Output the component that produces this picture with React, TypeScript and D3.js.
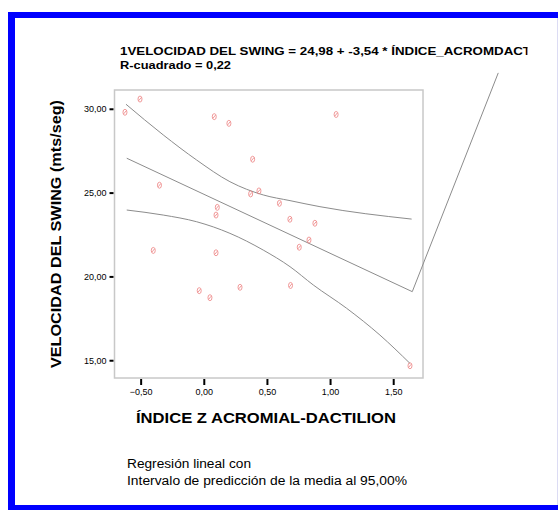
import React from "react";
import * as d3 from "d3";

// Data points (ÍNDICE Z ACROMIAL-DACTILION, VELOCIDAD DEL SWING)
const indiceZ = [-0.628, -0.509, 0.079, 0.195, 1.044, 0.383, -0.355, 0.367, 0.433, 0.595, 0.103, 0.093, 0.678, 0.876, 0.829, 0.752, -0.404, 0.093, -0.04, 0.045, 0.283, 0.683, 1.629];
const velocidad = [29.82, 30.61, 29.56, 29.16, 29.69, 27.02, 25.47, 24.95, 25.13, 24.39, 24.15, 23.69, 23.44, 23.2, 22.2, 21.77, 21.58, 21.44, 19.18, 18.76, 19.38, 19.49, 14.7];

// Fitted line (including the trailing segment as drawn)
const fitX = [-0.614, 1.647, 2.328];
const fitY = [27.08, 19.12, 32.17];

// 95% mean prediction interval bands
const upperX = [-0.62, -0.325, -0.06, 0.203, 0.467, 0.679, 0.916, 1.642];
const upperY = [30.3, 28.47, 26.97, 25.68, 24.89, 24.55, 24.19, 23.45];
const lowerX = [-0.614, -0.325, -0.06, 0.203, 0.467, 0.679, 0.863, 1.127, 1.391, 1.629];
const lowerY = [23.99, 23.69, 23.29, 22.6, 21.6, 20.61, 19.52, 18.13, 16.53, 14.84];

const xTicks = [-0.5, 0, 0.5, 1, 1.5];
const yTicks = [15, 20, 25, 30];

const titleLine1 = "1VELOCIDAD DEL SWING = 24,98 + -3,54 * ÍNDICE_ACROMDACT";
const titleLine2 = "R-cuadrado = 0,22";
const xTitle = "ÍNDICE Z ACROMIAL-DACTILION";
const yTitle = "VELOCIDAD DEL SWING (mts/seg)";
const note1 = "Regresión lineal con";
const note2 = "Intervalo de predicción de la media al 95,00%";

const FONT = "Arial, 'Liberation Sans', sans-serif";

export default function App() {
  const W = 558, H = 510;
  const x = d3.scaleLinear().domain([-0.711, 1.732]).range([114.5, 423]);
  const y = d3.scaleLinear().domain([13.97, 31.15]).range([378, 90]);
  const fmt = (v: number) => d3.format(".2f")(v).replace(".", ",");

  const line = d3.line<[number, number]>().x(d => x(d[0])).y(d => y(d[1]));
  const curve = d3.line<[number, number]>().x(d => x(d[0])).y(d => y(d[1])).curve(d3.curveMonotoneX);

  const fit = line(fitX.map((v, i) => [v, fitY[i]]) as [number, number][]) || "";
  const upper = curve(upperX.map((v, i) => [v, upperY[i]]) as [number, number][]) || "";
  const lower = curve(lowerX.map((v, i) => [v, lowerY[i]]) as [number, number][]) || "";

  return (
    <svg width={W} height={H} style={{ position: "absolute", left: 0, top: 0, background: "#fff" }}>
      <defs>
        <clipPath id="titleClip">
          <rect x={0} y={0} width={527.5} height={100} />
        </clipPath>
      </defs>
      <rect x={0} y={0} width={W} height={H} fill="#fff" />
      {/* blue frame */}
      <rect x={8} y={12} width={W - 8} height={6} fill="#0000ff" />
      <rect x={8} y={12} width={7} height={H - 12} fill="#0000ff" />
      <rect x={8} y={505} width={W - 8} height={5} fill="#0000ff" />
      <line x1={557.5} y1={18} x2={557.5} y2={505} stroke="#dcdcf4" strokeWidth={1} />

      {/* title */}
      <g clipPath="url(#titleClip)">
        <text x={120} y={55} fontFamily={FONT} fontWeight="bold" fontSize={11} fill="#000" textLength={411} lengthAdjust="spacingAndGlyphs">{titleLine1}</text>
      </g>
      <text x={120} y={68.5} fontFamily={FONT} fontWeight="bold" fontSize={11} textLength={111} lengthAdjust="spacingAndGlyphs">{titleLine2}</text>

      {/* plot frame */}
      <rect x={114.5} y={90} width={308.5} height={288} fill="none" stroke="#c8c8c8" strokeWidth={1.5} />

      {/* bands and fit */}
      <path d={upper} fill="none" stroke="#8c8c8c" strokeWidth={1} />
      <path d={lower} fill="none" stroke="#8c8c8c" strokeWidth={1} />
      <path d={fit} fill="none" stroke="#8c8c8c" strokeWidth={1} />

      {/* points */}
      {indiceZ.map((v, i) => (
        <g key={i} transform={`translate(${x(v)},${y(velocidad[i])})`} stroke="#ec8080" fill="none" strokeWidth={0.8}>
          <ellipse rx={2} ry={3} />
          <line x1={-1.2} y1={1.5} x2={1.2} y2={-1.5} />
        </g>
      ))}

      {/* y axis */}
      {yTicks.map(t => (
        <g key={t}>
          <line x1={109.5} x2={113.5} y1={y(t)} y2={y(t)} stroke="#000" strokeWidth={2} />
          <text x={106.5} y={y(t)} dy="0.35em" textAnchor="end" fontFamily={FONT} fontSize={9} fill="#000">{fmt(t)}</text>
        </g>
      ))}
      {/* x axis */}
      {xTicks.map(t => (
        <g key={t}>
          <line x1={x(t)} x2={x(t)} y1={379} y2={385} stroke="#000" strokeWidth={2} />
          <text x={x(t)} y={394.5} textAnchor="middle" fontFamily={FONT} fontSize={9} fill="#000">{fmt(t)}</text>
        </g>
      ))}

      <text x={266} y={423} textAnchor="middle" fontFamily={FONT} fontWeight="bold" fontSize={15} textLength={260} lengthAdjust="spacingAndGlyphs">{xTitle}</text>
      <text transform="translate(60.5,234) rotate(-90)" textAnchor="middle" fontFamily={FONT} fontWeight="bold" fontSize={15.5} textLength={268} lengthAdjust="spacingAndGlyphs">{yTitle}</text>

      <text x={127} y={468} fontFamily={FONT} fontSize={12} textLength={124} lengthAdjust="spacingAndGlyphs">{note1}</text>
      <text x={127} y={485} fontFamily={FONT} fontSize={12} textLength={280} lengthAdjust="spacingAndGlyphs">{note2}</text>
    </svg>
  );
}
